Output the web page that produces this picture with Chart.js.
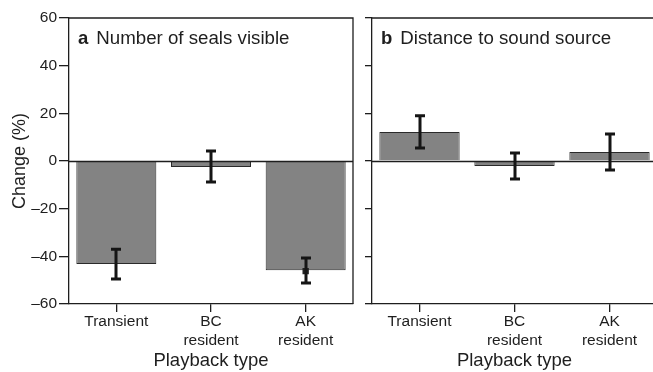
<!DOCTYPE html>
<html>
<head>
<meta charset="utf-8">
<script src="https://cdn.jsdelivr.net/npm/chart.js@4.4.1/dist/chart.umd.min.js"></script>
<style>
  html, body { margin: 0; padding: 0; background: #fff; overflow: hidden; }
  #wrap { position: relative; width: 653px; height: 372px; }
  canvas { position: absolute; top: 0; }
</style>
</head>
<body>
<div id="wrap">
  <canvas id="seals" width="360" height="372" style="left:0"></canvas>
  <canvas id="distance" width="297" height="372" style="left:360px"></canvas>
</div>
<script>
// playback categories (multi-line tick labels)
const playbackTypes = [['Transient'], ['BC', 'resident'], ['AK', 'resident']];
const yTicks = [-60, -40, -20, 0, 20, 40, 60];

// panel a: change in number of seals visible (%)
const sealsMean = [-43.2, -2.5, -45.8];
const sealsLow = [-49.5, -8.8, -51.2];
const sealsHigh = [-37.0, 4.2, -40.7];
const sealsMarker = [null, null, -46.2];

// panel b: change in distance to sound source (%)
const distMean = [12.2, -2.1, 3.8];
const distLow = [5.5, -7.6, -3.8];
const distHigh = [19.0, 3.4, 11.3];

const FONT = "'Liberation Sans', Arial, Helvetica, sans-serif";
const INK = '#1e1e1e';

Chart.defaults.font.family = FONT;
Chart.defaults.color = INK;

// frame lines, zero line, error bars, panel title
const panelPlugin = {
  id: 'panel',
  afterDatasetsDraw(chart, args, opts) {
    const ctx = chart.ctx;
    const a = chart.chartArea;
    const y = chart.scales.y;
    ctx.save();
    ctx.strokeStyle = INK;
    ctx.lineWidth = 1.3;
    // top (and right) border
    ctx.beginPath();
    ctx.moveTo(a.left, a.top);
    ctx.lineTo(a.right, a.top);
    if (opts.rightBorder) ctx.lineTo(a.right, a.bottom);
    ctx.stroke();
    // zero line
    const y0 = Math.round(y.getPixelForValue(0)) + 0.5;
    ctx.lineWidth = 1.5;
    ctx.beginPath();
    ctx.moveTo(a.left, y0);
    ctx.lineTo(a.right, y0);
    ctx.stroke();
    // error bars
    const meta = chart.getDatasetMeta(0);
    ctx.strokeStyle = '#151515';
    ctx.lineWidth = 3;
    meta.data.forEach((bar, i) => {
      const x = Math.round(bar.x);
      const yl = y.getPixelForValue(opts.low[i]);
      const yh = y.getPixelForValue(opts.high[i]);
      ctx.beginPath();
      ctx.moveTo(x, yl); ctx.lineTo(x, yh);
      ctx.moveTo(x - 5, yl); ctx.lineTo(x + 5, yl);
      ctx.moveTo(x - 5, yh); ctx.lineTo(x + 5, yh);
      ctx.stroke();
    });
    // panel title
    ctx.fillStyle = INK;
    ctx.textBaseline = 'alphabetic';
    ctx.font = 'bold 18.5px ' + FONT;
    const tx = a.left + 9, ty = a.top + 26;
    ctx.fillText(opts.letter, tx, ty);
    const lw = ctx.measureText(opts.letter).width;
    ctx.font = '18.7px ' + FONT;
    ctx.fillText(opts.title, tx + lw + 8, ty);
    ctx.restore();
  }
};

function makeChart(id, mean, marker, low, high, cfg) {
  const datasets = [{
    type: 'bar',
    data: mean,
    backgroundColor: '#838383',
    borderColor: '#2a2a2a',
    borderWidth: 1,
    barPercentage: 0.845,
    categoryPercentage: 1,
    order: 2
  }];
  if (marker) {
    datasets.push({
      type: 'line',
      data: marker,
      showLine: false,
      pointStyle: 'rect',
      pointRadius: 4.5,
      pointBackgroundColor: '#222',
      pointBorderWidth: 0,
      order: 1
    });
  }
  return new Chart(document.getElementById(id), {
    type: 'bar',
    data: { labels: playbackTypes, datasets: datasets },
    plugins: [panelPlugin],
    options: {
      responsive: false,
      animation: false,
      devicePixelRatio: 1,
      layout: { padding: { top: 18, right: cfg.padRight, left: 0, bottom: 0 } },
      plugins: {
        legend: { display: false },
        tooltip: { enabled: false },
        panel: { low: low, high: high, letter: cfg.letter, title: cfg.title, rightBorder: cfg.rightBorder }
      },
      scales: {
        x: {
          offset: true,
          grid: { offset: false, drawOnChartArea: false, drawTicks: true, tickLength: 8, color: INK, lineWidth: 1.3 },
          border: { display: true, color: INK, width: 1.3 },
          ticks: { font: { size: 15.5, lineHeight: 1.25 }, padding: 0, maxRotation: 0, autoSkip: false },
          title: { display: true, text: 'Playback type', font: { size: 18.5, lineHeight: 1.2 }, padding: { top: 0, bottom: 0 } },
          afterFit(s) { s.height = 68; }
        },
        y: {
          min: -60, max: 60,
          afterBuildTicks(s) { s.ticks = yTicks.map(v => ({ value: v })); },
          grid: { drawOnChartArea: false, drawTicks: true, tickLength: cfg.tickLen, color: INK, lineWidth: 1.3 },
          border: { display: true, color: INK, width: 1.3 },
          ticks: {
            font: { size: 15.5 }, padding: 2,
            color: cfg.showTickLabels ? INK : 'rgba(0,0,0,0)',
            callback: v => (v < 0 ? '\u2013' + Math.abs(v) : String(v))
          },
          title: { display: cfg.showTickLabels, text: 'Change (%)', font: { size: 18, lineHeight: 1.2 }, padding: { top: 9, bottom: 0 } },
          afterFit(s) { s.width = cfg.yWidth; }
        }
      }
    }
  });
}

makeChart('seals', sealsMean, sealsMarker, sealsLow, sealsHigh, {
  letter: 'a', title: 'Number of seals visible', rightBorder: true,
  padRight: 7, yWidth: 69, tickLen: 10, showTickLabels: true
});
makeChart('distance', distMean, null, distLow, distHigh, {
  letter: 'b', title: 'Distance to sound source', rightBorder: false,
  padRight: 0, yWidth: 12, tickLen: 7, showTickLabels: false
});
</script>
</body>
</html>
